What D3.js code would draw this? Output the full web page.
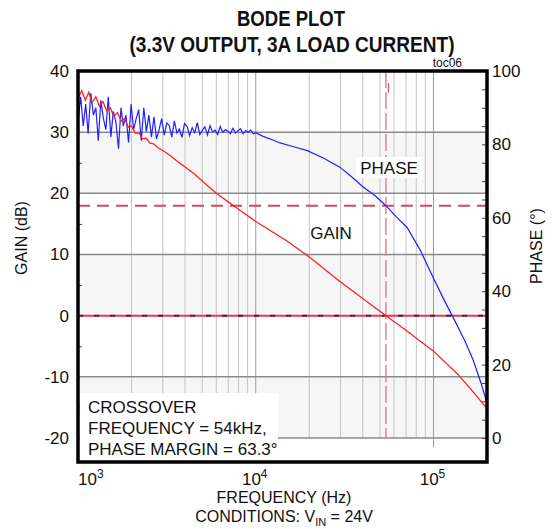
<!DOCTYPE html>
<meta charset="utf-8">
<style>
  body { margin: 0; background: #fff; }
  svg text { font-family: "Liberation Sans", Arial, sans-serif; fill: #111; }
</style>
<body>
<div id="chart"></div>
<script src="https://d3js.org/d3.v7.min.js"></script>
<script>

// gain trace, [Hz, dB]
var gain = [
  [1000,35.5],[1050,36.8],[1100,35.2],[1150,36.5],[1200,34.8],[1260,35.8],[1320,34.2],[1380,35],
  [1450,33.5],[1520,34],[1590,32.6],[1670,33.2],[1750,31.8],[1830,32.2],[1920,30.8],[2000,31],
  [2100,29.8],[2200,29.9],[2300,28.9],[2420,29],[2540,28.2],[2660,28.1],[2800,27.5],[3000,27],
  [3300,26.2],[3600,25.3],[4000,24.3],[4500,23.2],[5000,22],[6000,20],[7000,18.6],[8000,17.4],
  [10000,15.4],[15000,12.2],[20000,9.6],[30000,5.5],[40000,2.8],[54000,0],[70000,-2.4],
  [100000,-5.8],[135000,-9.4],[160000,-11.8],[200000,-15.2]
];

// phase trace, [Hz, deg]
var phase = [
  [1000,86],[1035,93],[1070,85],[1105,91],[1140,83],[1180,94],[1220,88],[1260,90],[1300,81],
  [1345,92],[1390,87],[1435,84],[1480,93],[1530,82],[1580,89],[1635,86],[1690,78.8],[1745,90],
  [1800,85],[1860,88],[1925,80.5],[1990,91],[2055,84],[2125,87],[2195,89.5],[2270,81],[2345,90],
  [2425,83.5],[2505,88],[2590,82],[2675,87.5],[2765,81.5],[2860,84],[2955,87],[3055,82.5],
  [3155,85.8],[3260,85.2],[3370,82],[3485,86.4],[3600,83.1],[3720,84.2],[3845,81.9],[3975,85.7],
  [4110,84.9],[4245,82.4],[4390,84.6],[4535,83.2],[4690,85.9],[4845,82.7],[5010,83.9],[5175,84.8],
  [5350,82.6],[5530,85.1],[5715,83.4],[5905,83.9],[6105,82.7],[6310,84.9],[6520,83.3],[6740,84],
  [6965,83.6],[7200,82.9],[7440,84.4],[7690,83.1],[7950,83.7],[8215,84.3],[8490,82.9],[8775,83.8],
  [9070,83.3],[9375,83.9],[9690,82.9],[10000,83.2],[11000,82.2],[12500,81.2],[13700,80.4],[16000,79.5],
  [19500,78.3],[24000,76.3],[29700,73.8],[35000,71],[40200,68.4],[47000,66],[54000,63.3],
  [62000,60.2],[71200,57.3],[84200,51.2],[99200,43.9],[115000,37.5],[128500,33],[150000,26.5],
  [166900,21.3],[185000,15],[200000,9.5]
];

var gainTicks = [40, 30, 20, 10, 0, -10, -20];
var gainMinor = [35, 25, 15, 5, -5, -15];
var phaseTicks = [100, 80, 60, 40, 20, 0];
var phaseMinor = [95, 90, 85, 75, 70, 65, 55, 50, 45, 35, 30, 25, 15, 10, 5];
var decades = [1e3, 1e4, 1e5];
var minorFreqs = [2e3,3e3,4e3,5e3,6e3,7e3,8e3,9e3,2e4,3e4,4e4,5e4,6e4,7e4,8e4,9e4,2e5];
var crossoverHz = 54000, marginDeg = 63.3;
var shadedBands = [[30, 20], [10, 0], [-10, -20]];

var W = 555, H = 529;
var L = 78, R = 487, T = 71, B = 462;

var svg = d3.select("#chart").append("svg")
  .attr("width", W).attr("height", H);

var x = d3.scaleLog().domain([1e3, 2e5]).range([L, R]);
var yG = d3.scaleLinear().domain([40, -20]).range([T, 438]);
var yP = d3.scaleLinear().domain([100, 0]).range([T, 438]);

// background bands
svg.selectAll(".band").data(shadedBands).enter().append("rect")
  .attr("x", L).attr("width", R - L)
  .attr("y", function(d) { return yG(d[0]); })
  .attr("height", function(d) { return yG(d[1]) - yG(d[0]); })
  .attr("fill", "#f6f6f6");

// vertical grid
svg.selectAll(".vmin").data(minorFreqs).enter().append("line")
  .attr("x1", function(d) { return x(d); }).attr("x2", function(d) { return x(d); })
  .attr("y1", T).attr("y2", yG(-20))
  .attr("stroke", "#c4c4c4").attr("stroke-width", 1);
svg.selectAll(".vdec").data(decades.slice(1)).enter().append("line")
  .attr("x1", function(d) { return x(d); }).attr("x2", function(d) { return x(d); })
  .attr("y1", T).attr("y2", yG(-20) + 9)
  .attr("stroke", "#999").attr("stroke-width", 1);

// horizontal grid
svg.selectAll(".hgrid").data(gainTicks.filter(function(d) { return d !== 40 && d !== 0; }))
  .enter().append("line")
  .attr("x1", L).attr("x2", R)
  .attr("y1", function(d) { return yG(d); }).attr("y2", function(d) { return yG(d); })
  .attr("stroke", "#8a8a8a").attr("stroke-width", 1.5);

// 0 dB line
svg.append("line").attr("x1", L).attr("x2", R).attr("y1", yG(0)).attr("y2", yG(0))
  .attr("stroke", "#e23a55").attr("stroke-width", 2);
svg.append("line").attr("x1", L).attr("x2", R).attr("y1", yG(0)).attr("y2", yG(0))
  .attr("stroke", "#333").attr("stroke-width", 2).attr("stroke-dasharray", "5 11");

// phase margin line
svg.append("line").attr("x1", L).attr("x2", R)
  .attr("y1", yP(marginDeg)).attr("y2", yP(marginDeg))
  .attr("stroke", "#d4485c").attr("stroke-width", 2).attr("stroke-dasharray", "12 7");

// crossover line
svg.append("line").attr("x1", x(crossoverHz)).attr("x2", x(crossoverHz))
  .attr("y1", T).attr("y2", yG(-20))
  .attr("stroke", "#e8808f").attr("stroke-width", 1.5).attr("stroke-dasharray", "17 4");
svg.append("line").attr("x1", x(crossoverHz) + 2.5).attr("x2", x(crossoverHz) + 2.5)
  .attr("y1", T + 12).attr("y2", T + 22)
  .attr("stroke", "#e23a55").attr("stroke-width", 1);

// traces
var line = d3.line()
  .x(function(d) { return x(d[0]); });
svg.append("path").datum(phase)
  .attr("d", line.y(function(d) { return yP(d[1]); }))
  .attr("fill", "none").attr("stroke", "#1f1fff").attr("stroke-width", 1.2);
svg.append("path").datum(gain)
  .attr("d", line.y(function(d) { return yG(d[1]); }))
  .attr("fill", "none").attr("stroke", "#ff2020").attr("stroke-width", 1.3);

// axes (plain hyphen minus like the original)
var plain = function(d) { return String(d); };
var axL = svg.append("g").attr("transform", "translate(" + L + ",0)")
  .call(d3.axisLeft(yG).tickValues(gainTicks).tickSize(0).tickPadding(9).tickFormat(plain));
var axLm = svg.append("g").attr("transform", "translate(" + L + ",0)")
  .call(d3.axisRight(yG).tickValues(gainMinor).tickSize(4).tickFormat(""));
var axR = svg.append("g").attr("transform", "translate(" + R + ",0)")
  .call(d3.axisRight(yP).tickValues(phaseTicks).tickSize(0).tickPadding(5).tickFormat(plain));
var axRm = svg.append("g").attr("transform", "translate(" + R + ",0)")
  .call(d3.axisLeft(yP).tickValues(phaseMinor.concat(phaseTicks)).tickSize(5).tickFormat(""));
[axL, axLm, axR, axRm].forEach(function(a) {
  a.select(".domain").remove();
  a.selectAll("text").attr("font-size", 17).attr("fill", "#111")
    .style("font-family", null);
  a.selectAll("line").attr("stroke", "#444");
});

// bottom decade labels
var xl = svg.selectAll(".xl").data(decades).enter().append("text")
  .attr("x", function(d, i) { return i === 0 ? x(d) : x(d) - 1; })
  .attr("y", 485)
  .attr("text-anchor", function(d, i) { return i === 0 ? "start" : "middle"; })
  .attr("font-size", 17);
xl.append("tspan").text("10");
xl.append("tspan").attr("dy", -7).attr("font-size", 12)
  .text(function(d) { return Math.round(Math.log10(d)); });

// crossover note
svg.append("rect").attr("x", L + 2).attr("y", 393).attr("width", 198).attr("height", B - 393)
  .attr("fill", "#fff");
var note = ["CROSSOVER", "FREQUENCY  = 54kHz,", "PHASE MARGIN = 63.3\u00b0"];
svg.selectAll(".note").data(note).enter().append("text")
  .attr("x", 88).attr("y", function(d, i) { return 413 + i * 21; })
  .attr("font-size", 17).text(function(d) { return d; });

// trace labels
svg.append("rect").attr("x", 356).attr("y", 157).attr("width", 67).attr("height", 21).attr("fill", "#fff");
svg.append("text").attr("x", 389).attr("y", 174).attr("text-anchor", "middle")
  .attr("font-size", 17).text("PHASE");
svg.append("text").attr("x", 331).attr("y", 239).attr("text-anchor", "middle")
  .attr("font-size", 17).text("GAIN");

// frame
svg.append("rect").attr("x", L).attr("y", T).attr("width", R - L).attr("height", B - T)
  .attr("fill", "none").attr("stroke", "#000").attr("stroke-width", 3.5);

// titles (condensed bold face squeezed to the original width)
svg.append("text").attr("x", 291).attr("y", 26).attr("text-anchor", "middle")
  .attr("font-size", 22).attr("font-weight", "bold")
  .attr("textLength", 108).attr("lengthAdjust", "spacingAndGlyphs").text("BODE PLOT");
svg.append("text").attr("x", 292).attr("y", 52).attr("text-anchor", "middle")
  .attr("font-size", 22).attr("font-weight", "bold")
  .attr("textLength", 325).attr("lengthAdjust", "spacingAndGlyphs")
  .text("(3.3V OUTPUT, 3A LOAD CURRENT)");
svg.append("text").attr("x", 462).attr("y", 67).attr("text-anchor", "end")
  .attr("font-size", 12).text("toc06");

// axis titles
svg.append("text").attr("transform", "translate(27,238) rotate(-90)")
  .attr("text-anchor", "middle").attr("font-size", 16).text("GAIN (dB)");
svg.append("text").attr("transform", "translate(542,246) rotate(-90)")
  .attr("text-anchor", "middle").attr("font-size", 16).text("PHASE (\u00b0)");
svg.append("text").attr("x", 284).attr("y", 503).attr("text-anchor", "middle")
  .attr("font-size", 16).text("FREQUENCY (Hz)");
var cond = svg.append("text").attr("x", 284).attr("y", 522).attr("text-anchor", "middle")
  .attr("font-size", 16);
cond.append("tspan").text("CONDITIONS: V");
cond.append("tspan").attr("dy", 4).attr("font-size", 11).text("IN");
cond.append("tspan").attr("dy", -4).text(" = 24V");

</script>
</body>
